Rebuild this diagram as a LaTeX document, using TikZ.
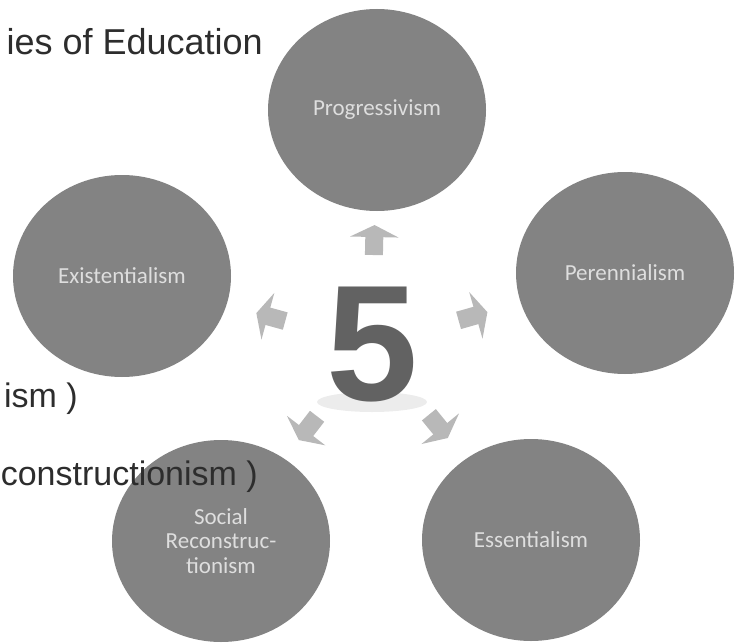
\documentclass[tikz,border=0pt]{standalone}
\usepackage{fontspec}
\setmainfont{Liberation Sans}
\newfontfamily\circfont{Carlito}
\usepackage{tikz}
\usetikzlibrary{calc}
\usetikzlibrary{arrows.meta}
\usetikzlibrary{shapes.geometric}
\definecolor{discgray}{RGB}{131,131,131}
\definecolor{disctext}{RGB}{222,222,222}
\definecolor{spokegray}{RGB}{184,184,184}
\definecolor{fiveface}{RGB}{98,98,98}
\definecolor{fiveglow}{RGB}{236,236,236}
\definecolor{slidetext}{RGB}{45,45,45}
\newcommand{\widthdisc}{218pt}
\newcommand{\heightdisc}{202pt}
\tikzset{
    disc/.style={ellipse, fill=discgray, minimum width=\widthdisc, minimum height=\heightdisc,
        inner sep=0pt, text=disctext, align=center, font=\circfont\fontsize{23}{24.5}\selectfont},
    spoke/.style={spokegray, line width=18pt, -{Triangle[width=48pt, length=12pt]}},
    sidetext/.style={anchor=base east, inner sep=0pt, text=slidetext, font=\fontsize{34}{40}\selectfont},
    numeral/.style={inner sep=0pt, text=fiveface, font=\bfseries\fontsize{165}{165}\selectfont}
}

\begin{document}
\begin{tikzpicture}[x=1pt, y=-1pt]
    \useasboundingbox (0,0) rectangle (738,642);

    % the five circles
    \node[disc] (prog) at (377,110) {Progressivism};
    \node[disc] (exis) at (122,276) {Existentialism};
    \node[disc] (pere) at (625,273) {Perennialism};
    \node[disc] (soci) at (221,541) {Social\\Reconstruc-\\tionism};
    \node[disc] (esse) at (531,540) {Essentialism};

    % the big 5 in the middle
    \node[ellipse, fill=fiveglow, minimum width=110pt, minimum height=20pt] (glow) at (372,402) {};
    \node[numeral] (five) at (372,345) {5};

    \foreach \c in {prog,exis,pere,soci,esse}
        \draw[spoke] ($(five)!90pt!(\c)$) -- ($(five)!120pt!(\c)$);

    % text of the slide behind
    \node[sidetext, font=\fontsize{36}{40}\selectfont] (title) at (263,55) {ies of Education};
    \node[sidetext] (prog-note) at (78,407) {ism )};
    \node[sidetext] (soci-note) at (258,485) {constructionism )};
\end{tikzpicture}
\end{document}
